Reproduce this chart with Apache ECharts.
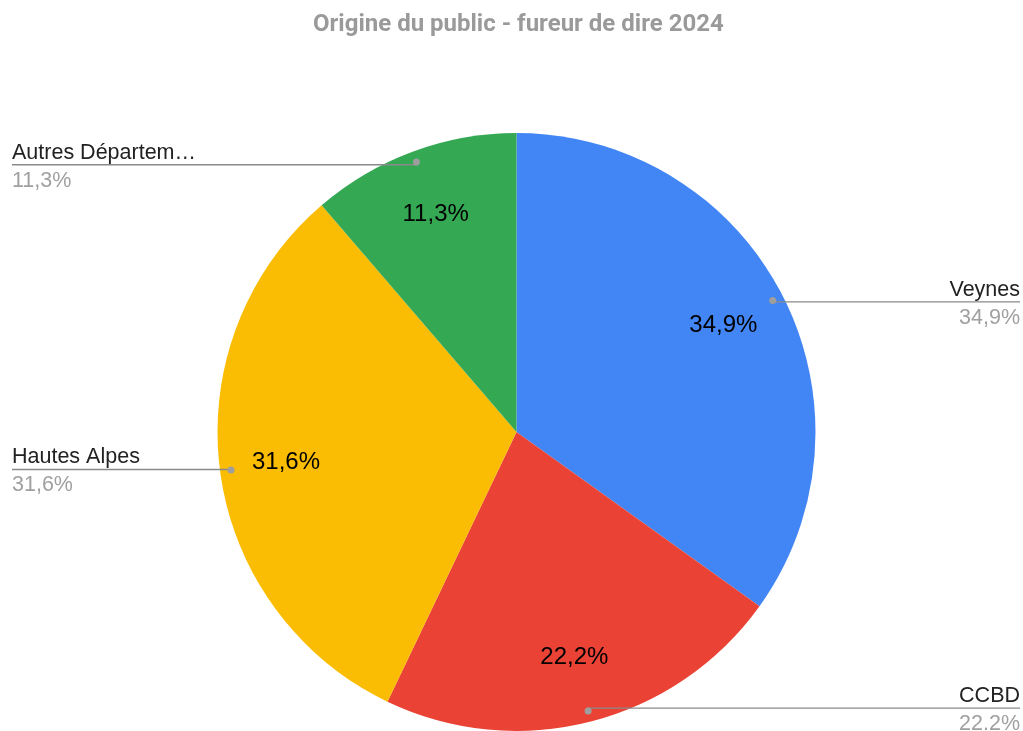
<!DOCTYPE html>
<html lang="fr">
  <head>
    <meta charset="UTF-8" />
    <title>Origine du public - fureur de dire 2024</title>
    <script src="https://cdn.jsdelivr.net/npm/echarts@6/dist/echarts.min.js"></script>
    <style>
      html, body { margin: 0; padding: 0; background: #fff; }
    </style>
  </head>
  <body>
    <div id="main" style="width: 1023px; height: 731px"></div>

    <script type="text/javascript">
      // data (clockwise from the top)
      const categories = ["Veynes", "CCBD", "Hautes Alpes", "Autres Départem…"];
      const shares = [34.9, 22.2, 31.6, 11.3];
      const innerLabels = ["34,9%", "22,2%", "31,6%", "11,3%"];
      const outerLabels = ["34,9%", "22.2%", "31,6%", "11,3%"];
      const colors = ["#4285f4", "#ea4335", "#fbbc04", "#34a853"];

      const center = [516.5, 432];
      const R = 299;
      const labelFont = "'Liberation Sans', Arial, sans-serif";

      let myChart = echarts.init(document.getElementById("main"));
      const W = myChart.getWidth();

      const slices = categories.map((name, i) => ({ name: name, value: shares[i] }));
      const clear = { color: "rgba(0,0,0,0)", borderWidth: 0 };

      let options = {
        animation: false,
        title: {
          text: "Origine du public - fureur de dire 2024",
          left: 308,
          top: 8,
          textStyle: { fontFamily: "Roboto", fontWeight: "bold", fontSize: 24, color: "#9a9a9a" },
        },
        series: [
          {
            // the visible pie
            type: "pie",
            center: center,
            radius: [0, R],
            startAngle: 90,
            silent: true,
            z: 1,
            label: { show: false },
            labelLine: { show: false },
            itemStyle: { borderWidth: 0 },
            data: slices.map((d, i) => ({ ...d, itemStyle: { color: colors[i] } })),
          },
          {
            // percentages inside the slices
            type: "pie",
            center: center,
            radius: [160, R],
            startAngle: 90,
            silent: true,
            z: 3,
            itemStyle: clear,
            labelLine: { show: false },
            label: {
              show: true,
              position: "inside",
              formatter: (p) => innerLabels[p.dataIndex],
              fontFamily: labelFont,
              fontSize: 24,
              color: "#000",
            },
            data: slices,
          },
          {
            // outer labels with their lines
            type: "pie",
            center: center,
            radius: [0, 285],
            startAngle: 90,
            top: 0,
            bottom: -80,
            silent: true,
            z: 4,
            avoidLabelOverlap: false,
            itemStyle: clear,
            label: {
              show: true,
              position: "outside",
              alignTo: "edge",
              edgeDistance: 12,
              distanceToLabelLine: 0,
              padding: [4, 0, 0, 0],
              formatter: (p) => "{n|" + p.name + "}\n{p|" + outerLabels[p.dataIndex] + "}",
              rich: {
                n: { fontFamily: labelFont, fontSize: 21.5, color: "#222", lineHeight: 28 },
                p: { fontFamily: labelFont, fontSize: 21.5, color: "#a0a0a0", lineHeight: 28 },
              },
            },
            labelLine: {
              show: true,
              length: 0,
              length2: 0,
              lineStyle: { color: "#8a8a8a", width: 1.3 },
            },
            labelLayout: function (p) {
              const pts = p.labelLinePoints;
              if (!pts) return {};
              const start = pts[0];
              const left = start[0] < center[0];
              const edgeX = left ? 12 : W - 3;
              return {
                labelLinePoints: [start, [start[0], start[1]], [edgeX, start[1]]],
              };
            },
            data: slices.map((d, i) => ({
              ...d,
              label: { edgeDistance: i < 2 ? 3 : 12 },
            })),
          },
          {
            // small dots where the lines start
            type: "pie",
            center: center,
            radius: [280, 290],
            startAngle: 90,
            silent: true,
            z: 5,
            itemStyle: clear,
            labelLine: { show: false },
            label: {
              show: true,
              position: "inside",
              formatter: "{d|}",
              rich: {
                d: { width: 7, height: 7, borderRadius: 3.5, backgroundColor: "#9e9e9e" },
              },
            },
            data: slices,
          },
        ],
      };

      myChart.setOption(options);
    </script>
  </body>
</html>
